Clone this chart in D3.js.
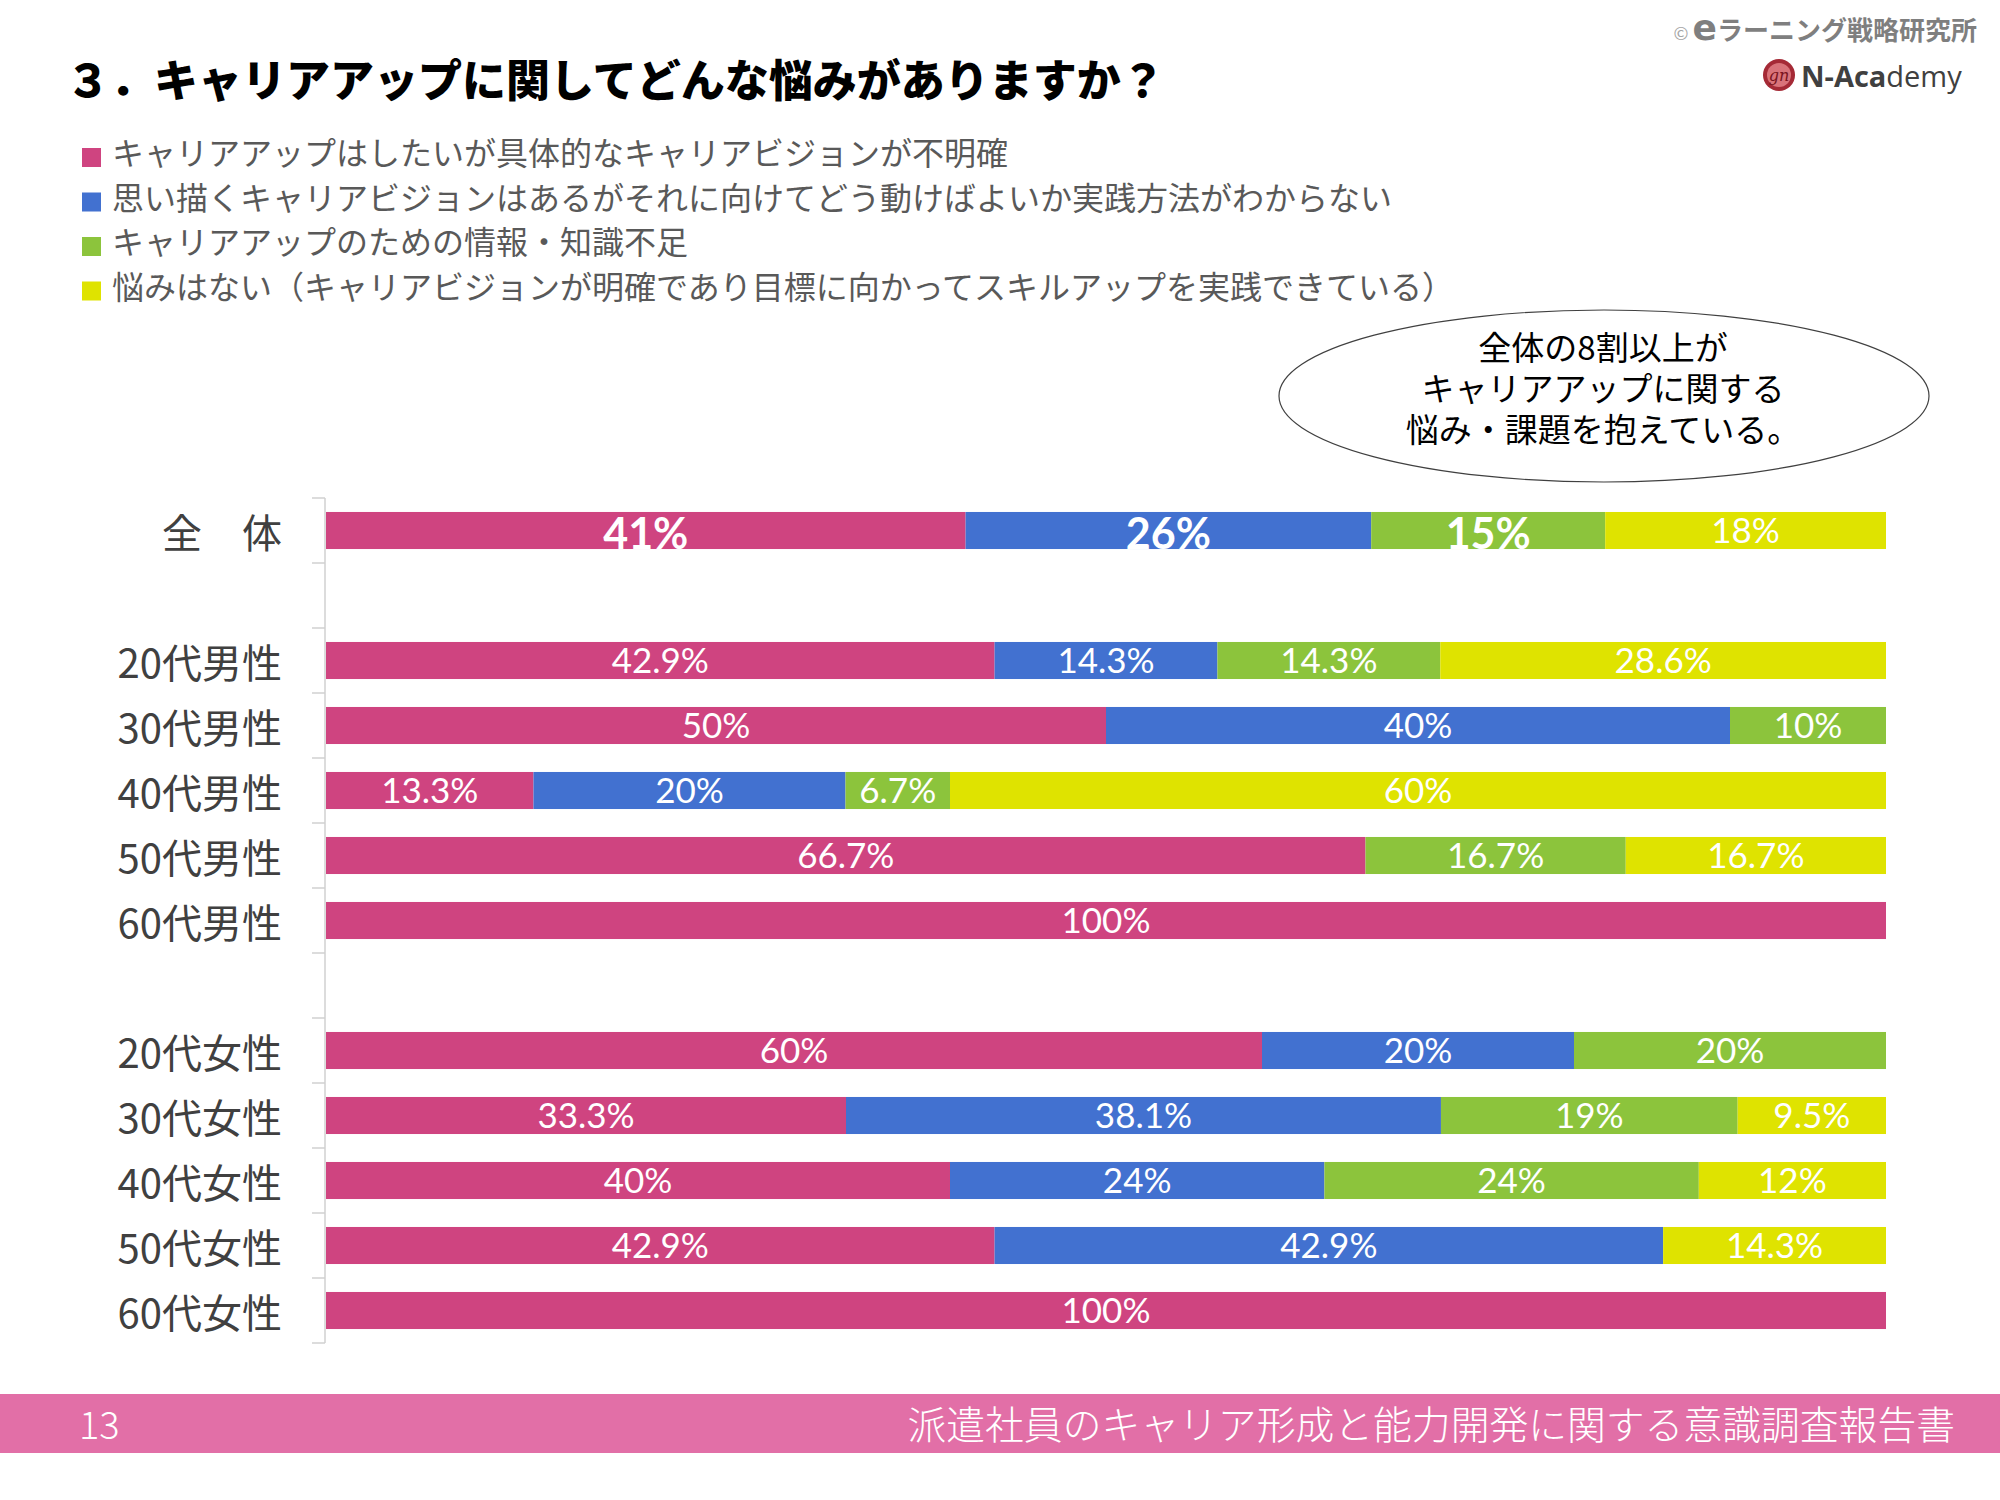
<!DOCTYPE html>
<html>
<head>
<meta charset="utf-8">
<script src="https://cdn.jsdelivr.net/npm/d3@7"></script>
<style>
  html, body { margin: 0; padding: 0; background: #fff; }
  svg { display: block; }
</style>
</head>
<body>
<div id="chart"></div>
<script>
// ---------- data ----------
const titleText = "３．キャリアアップに関してどんな悩みがありますか？";
const seriesNames = [
  "キャリアアップはしたいが具体的なキャリアビジョンが不明確",
  "思い描くキャリアビジョンはあるがそれに向けてどう動けばよいか実践方法がわからない",
  "キャリアアップのための情報・知識不足",
  "悩みはない（キャリアビジョンが明確であり目標に向かってスキルアップを実践できている）"
];
const seriesColors = ["#CF4480", "#4271D0", "#8CC43C", "#DFE300"];
const groups = ["全　体", "20代男性", "30代男性", "40代男性", "50代男性", "60代男性",
                "20代女性", "30代女性", "40代女性", "50代女性", "60代女性"];
const axisCategories = ["全　体", "gap1", "20代男性", "30代男性", "40代男性", "50代男性", "60代男性",
                        "gap2", "20代女性", "30代女性", "40代女性", "50代女性", "60代女性"];
const unclearVision = [41, 42.9, 50, 13.3, 66.7, 100, 60, 33.3, 40, 42.9, 100];
const noMethod      = [26, 14.3, 40, 20, 0, 0, 20, 38.1, 24, 42.9, 0];
const noInfo        = [15, 14.3, 10, 6.7, 16.7, 0, 20, 19, 24, 0, 0];
const noWorry       = [18, 28.6, 0, 60, 16.7, 0, 0, 9.5, 12, 14.3, 0];
const calloutLines = ["全体の8割以上が", "キャリアアップに関する", "悩み・課題を抱えている。"];
const pageNumber = "13";
const footerText = "派遣社員のキャリア形成と能力開発に関する意識調査報告書";

// ---------- setup ----------
const W = 2000, H = 1500;
const jp = "'Noto Sans CJK JP', 'Noto Sans', sans-serif";
const numFont = "Lato, 'Noto Sans', sans-serif";
const svg = d3.select("#chart").append("svg").attr("width", W).attr("height", H);
svg.append("rect").attr("width", W).attr("height", H).attr("fill", "#fff");

// title
svg.append("text").attr("x", 66).attr("y", 78).attr("dominant-baseline", "central")
  .attr("font-family", jp).attr("font-weight", 900).attr("font-size", 44).attr("fill", "#000")
  .text(titleText);

// logo block
const logo = svg.append("text").attr("x", 1977).attr("y", 40).attr("text-anchor", "end")
  .attr("font-family", jp).attr("fill", "#7f7f7f");
logo.append("tspan").attr("font-size", 18).attr("fill", "#a6a6a6").text("©");
logo.append("tspan").attr("font-size", 36).attr("font-weight", 900)
  .attr("font-family", "'DejaVu Sans', sans-serif").attr("dx", 4).text("e");
logo.append("tspan").attr("font-size", 26).attr("font-weight", 700).text("ラーニング戦略研究所");

const lg = svg.append("g").attr("transform", "translate(1779,75)");
lg.append("circle").attr("r", 16).attr("fill", "#a52a36");
lg.append("circle").attr("r", 12).attr("fill", "#d9737a");
lg.append("text").attr("text-anchor", "middle").attr("dominant-baseline", "central")
  .attr("font-family", "'DejaVu Serif', serif").attr("font-style", "italic")
  .attr("font-size", 16).attr("fill", "#7a1420").text("gn");
const na = svg.append("text").attr("x", 1801).attr("y", 75).attr("dominant-baseline", "central")
  .attr("font-family", "'Open Sans', 'Noto Sans', sans-serif").attr("font-size", 29).attr("fill", "#404040");
na.append("tspan").attr("font-weight", 700).text("N-Aca");
na.append("tspan").attr("font-weight", 400).text("demy");

// legend
const legend = svg.append("g");
seriesNames.forEach((name, i) => {
  const cy = 151 + i * 44.5;
  legend.append("rect").attr("x", 82).attr("y", cy - 3).attr("width", 19).attr("height", 19)
    .attr("fill", seriesColors[i]);
  legend.append("text").attr("x", 112).attr("y", cy).attr("dominant-baseline", "central")
    .attr("font-family", jp).attr("font-size", 32).attr("fill", "#595959").text(name);
});

// callout ellipse
svg.append("ellipse").attr("cx", 1604).attr("cy", 396).attr("rx", 325).attr("ry", 86)
  .attr("fill", "#fff").attr("stroke", "#404040").attr("stroke-width", 1.2);
const callout = svg.append("text").attr("text-anchor", "middle")
  .attr("font-family", jp).attr("font-size", 33).attr("fill", "#000");
calloutLines.forEach((t, i) => {
  callout.append("tspan").attr("x", 1603).attr("y", 360 + i * 41).text(t);
});

// ---------- chart ----------
const x = d3.scaleLinear().domain([0, 1]).range([326, 1886]);
const y = d3.scaleBand().domain(axisCategories).range([498, 1343])
  .paddingInner(0.43).paddingOuter(0.215);

const rows = groups.map((g, i) => ({
  group: g, s0: unclearVision[i], s1: noMethod[i], s2: noInfo[i], s3: noWorry[i]
}));
const keys = ["s0", "s1", "s2", "s3"];
const stacked = d3.stack().keys(keys).offset(d3.stackOffsetExpand)(rows);

// axis: labels
const yAxis = d3.axisLeft(y).tickSize(0).tickPadding(43)
  .tickFormat(d => d.startsWith("gap") ? "" : d);
const axG = svg.append("g").attr("transform", "translate(325,0)").call(yAxis);
axG.select(".domain").remove();
axG.selectAll("text").attr("font-family", jp).attr("font-size", 40).attr("fill", "#404040")
  .attr("dy", null).attr("dominant-baseline", "central");

// axis line and boundary ticks
const offset = y.step() * y.paddingOuter();
svg.append("line").attr("x1", 325).attr("x2", 325)
  .attr("y1", y.range()[0]).attr("y2", y.range()[1])
  .attr("stroke", "#d0d0d0").attr("stroke-width", 1.5);
const tickYs = axisCategories.map(c => y(c) - offset).concat([y.range()[1]]);
svg.append("g").selectAll("line").data(tickYs).join("line")
  .attr("x1", 312).attr("x2", 325).attr("y1", d => d).attr("y2", d => d)
  .attr("stroke", "#d0d0d0").attr("stroke-width", 1.5);

// bars
const barG = svg.append("g");
stacked.forEach((layer, si) => {
  barG.append("g").selectAll("rect").data(layer).join("rect")
    .attr("x", d => x(d[0]))
    .attr("width", d => Math.max(0, x(d[1]) - x(d[0])))
    .attr("y", d => y(d.data.group))
    .attr("height", y.bandwidth())
    .attr("fill", seriesColors[si]);
});

// labels
const labG = svg.append("g");
stacked.forEach((layer, si) => {
  layer.forEach((d, ri) => {
    const v = d.data[keys[si]];
    if (!v) return;
    const big = ri === 0 && si < 3;
    const cx = (x(d[0]) + x(d[1])) / 2;
    const cy = y(d.data.group) + y.bandwidth() / 2;
    labG.append("text").attr("x", cx).attr("y", cy + (big ? 18 : 12.5))
      .attr("text-anchor", "middle").attr("font-family", numFont)
      .attr("font-weight", big ? 700 : 400).attr("font-size", big ? 43 : 35)
      .attr("fill", "#fff").text(v + "%");
  });
});

// footer
svg.append("rect").attr("x", 0).attr("y", 1394).attr("width", W).attr("height", 59).attr("fill", "#E26FA7");
svg.append("text").attr("x", 79).attr("y", 1422).attr("dominant-baseline", "central")
  .attr("font-family", jp).attr("font-size", 38).attr("font-weight", 300).attr("fill", "#fff").text(pageNumber);
svg.append("text").attr("x", 1955).attr("y", 1422).attr("text-anchor", "end").attr("dominant-baseline", "central")
  .attr("font-family", jp).attr("font-size", 38.8).attr("font-weight", 300).attr("fill", "#fff").text(footerText);
</script>
</body>
</html>
